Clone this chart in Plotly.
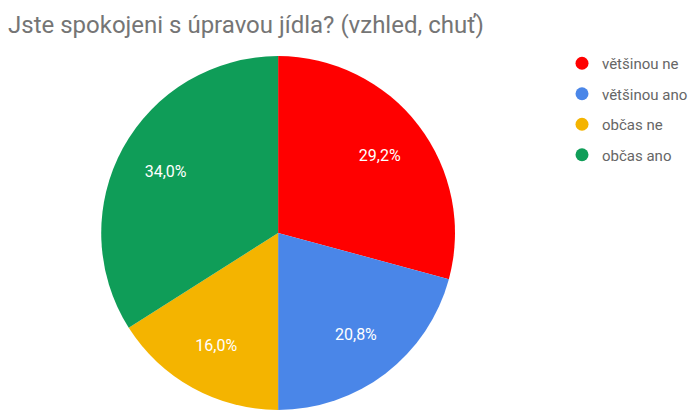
import plotly.graph_objects as go

title_text = "Jste spokojeni s úpravou jídla? (vzhled, chuť)"
categories = ["většinou ne", "většinou ano", "občas ne", "občas ano"]
values = [29.2, 20.8, 16.0, 34.0]
colors = ["#ff0000", "#4a86e8", "#f4b400", "#0f9d58"]

W, H = 693, 411
pie_dom = dict(x=[103 / W, 463 / W], y=[0, 1 - 55 / H])

fig = go.Figure()
# Solid pie (no text)
fig.add_trace(go.Pie(
    labels=categories,
    values=values,
    sort=False,
    direction="clockwise",
    rotation=0,
    marker=dict(colors=colors, line=dict(width=0)),
    textinfo="none",
    hoverinfo="label+percent",
    showlegend=False,
    domain=pie_dom,
))
# Transparent ring overlay that carries the percentage labels further out
fig.add_trace(go.Pie(
    labels=categories,
    values=values,
    sort=False,
    direction="clockwise",
    rotation=0,
    hole=0.45,
    marker=dict(colors=["rgba(0,0,0,0)"] * len(values), line=dict(width=0)),
    texttemplate="%{percent:.1%}",
    textposition="inside",
    insidetextorientation="horizontal",
    textfont=dict(family="Roboto", size=16, color="#ffffff"),
    hoverinfo="skip",
    showlegend=False,
    domain=pie_dom,
))

for i, (cat, col) in enumerate(zip(categories, colors)):
    fig.add_trace(go.Scatter(
        x=[None], y=[None], mode="markers", name=cat,
        marker=dict(color=col, size=13, symbol="circle"),
        legendgroup=f"g{i}", showlegend=True,
    ))

fig.update_layout(
    width=W, height=H,
    margin=dict(l=0, r=0, t=0, b=0),
    paper_bgcolor="#ffffff",
    plot_bgcolor="#ffffff",
    separators=", ",
    font=dict(family="Roboto", color="#757575"),
    title=dict(
        text=title_text,
        x=8 / W, xanchor="left", xref="container",
        y=1 - 25 / H, yanchor="middle", yref="container",
        font=dict(family="Roboto", size=24, color="#757575"),
    ),
    xaxis=dict(visible=False),
    yaxis=dict(visible=False),
    legend=dict(
        x=572 / W, xanchor="left",
        y=1 - 47 / H, yanchor="top",
        font=dict(family="Roboto", size=15, color="#666666"),
        traceorder="grouped",
        tracegroupgap=8,
        bgcolor="rgba(0,0,0,0)",
    ),
)

fig.write_html(
    "out.html",
    config={"displayModeBar": False},
    post_script="document.body.style.margin='0';document.body.style.overflow='hidden';",
)
